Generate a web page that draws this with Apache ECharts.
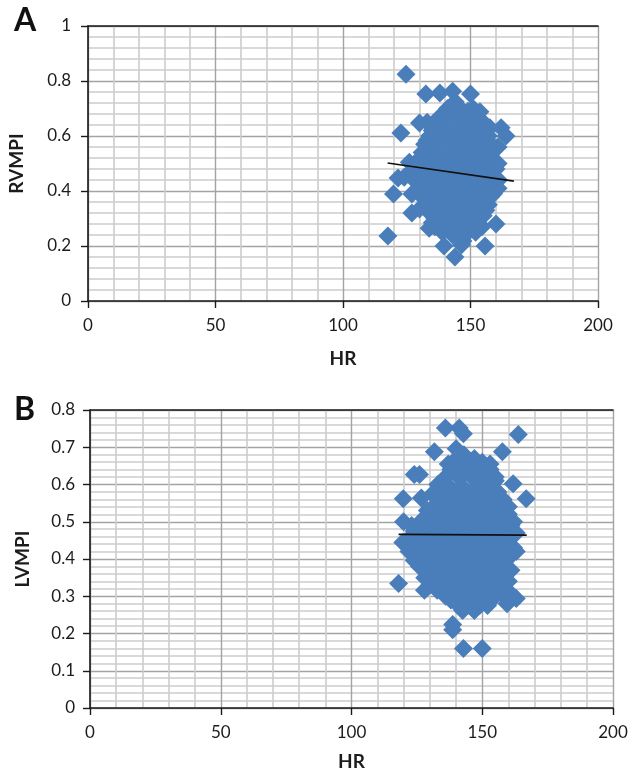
<!DOCTYPE html>
<html><head><meta charset="utf-8">
<style>html,body{margin:0;padding:0;background:#fff}#c{width:630px;height:770px}</style>
<script src="https://cdn.jsdelivr.net/npm/echarts@6/dist/echarts.min.js"></script>
</head><body><div id="c"></div>
<script>
const rvOutliers=[[124.7,.825],[132.5,.753],[138,.756],[143,.763],[150,.753],[153.7,.688],[130,.647],[133,.65],[122.7,.611],[157.6,.63],[162,.63],[163.9,.6],[160.8,.56],[160.8,.5],[160.8,.41],[126,.505],[129,.508],[121.6,.447],[124,.45],[119.8,.389],[127,.389],[127,.32],[130,.335],[117.6,.236],[133.8,.265],[139.6,.2],[143.9,.16],[147,.218],[146.5,.205],[155.7,.2],[154.5,.27],[160,.28]];
const rvCore=[[141,.7],[145,.71],[149,.69],[138,.67],[143,.67],[147,.66],[152,.67],[136,.64],[140,.63],[144,.64],[148,.63],[152,.64],[155,.62],[134,.6],[138,.6],[142,.61],[146,.6],[150,.6],[154,.59],[157,.6],[132,.57],[136,.57],[140,.57],[144,.57],[148,.56],[152,.57],[156,.56],[133,.54],[137,.53],[141,.54],[145,.53],[149,.54],[153,.53],[157,.53],[131,.5],[135,.5],[139,.51],[143,.5],[147,.5],[151,.51],[155,.5],[158,.51],[130,.47],[134,.47],[138,.47],[142,.48],[146,.47],[150,.47],[154,.48],[158,.47],[131,.44],[135,.44],[139,.44],[143,.45],[147,.44],[151,.44],[155,.45],[159,.44],[133,.41],[137,.41],[141,.41],[145,.42],[149,.41],[153,.41],[157,.42],[134,.38],[138,.38],[142,.39],[146,.38],[150,.38],[154,.39],[158,.38],[135,.35],[139,.35],[143,.36],[147,.35],[151,.35],[155,.36],[137,.32],[141,.32],[145,.33],[149,.32],[153,.32],[138,.29],[142,.29],[146,.3],[150,.29],[141,.265],[145,.26],[149,.27],
[133,.585],[135,.62],[131,.54],[129,.49],[128,.46],[129,.43],[131,.4],[132,.37],[133,.33],[136,.3],[157,.58],[159,.55],[160,.48],[159,.39],[157,.35],[155,.31],[152,.28],[137,.66],[155,.65],[140,.68],[146,.69],[136,.27],[139,.25],[143,.24],[149,.25],[152,.25],
[127,.475],[133,.56],[158,.46],[161,.44],[156,.33],[135,.285],[152,.6],[151,.7],[144,.725],[150,.655]];
const lvOutliers=[[135.9,.752],[141.2,.752],[142.8,.736],[163.8,.734],[131.7,.688],[157.7,.688],[140,.696],[124,.627],[126,.627],[161.8,.602],[166.8,.562],[119.8,.562],[126.7,.564],[119.9,.5],[119.6,.444],[124,.396],[122,.42],[118,.334],[127.9,.316],[132.8,.316],[130,.33],[142.5,.262],[147,.262],[152,.275],[159.5,.28],[163,.294],[160.5,.31],[138.7,.224],[138.7,.21],[142.8,.16],[150,.16]];
const lvCore=[[143,.68],[147,.67],[150,.66],[140,.65],[145,.65],[149,.64],[153,.64],[136,.62],[141,.62],[146,.62],[151,.62],[155,.61],[134,.59],[138,.59],[143,.59],[148,.59],[152,.59],[156,.58],[133,.56],[137,.56],[141,.565],[145,.56],[150,.56],[154,.56],[131,.53],[135,.53],[140,.53],[144,.53],[148,.53],[153,.53],[157,.53],[160,.52],[129,.5],[133,.5],[137,.5],[141,.5],[146,.5],[150,.5],[154,.5],[158,.5],[161,.49],[127,.47],[131,.47],[136,.47],[140,.47],[145,.47],[149,.47],[153,.47],[157,.47],[161,.47],[126,.44],[130,.44],[135,.44],[139,.44],[144,.44],[148,.44],[152,.44],[156,.44],[160,.44],[128,.41],[132,.41],[137,.41],[141,.41],[146,.41],[150,.41],[154,.41],[158,.41],[161,.41],[131,.38],[135,.38],[139,.38],[144,.38],[148,.38],[152,.38],[156,.38],[159,.38],[133,.35],[137,.35],[142,.35],[146,.35],[150,.35],[154,.35],[158,.35],[135,.32],[139,.32],[144,.32],[148,.32],[152,.32],[156,.32],[140,.29],[144,.29],[148,.29],[153,.3],
[138,.64],[143,.63],[148,.61],[153,.6],[135,.575],[140,.58],[146,.575],[151,.575],[156,.55],[132,.545],[138,.545],[143,.545],[147,.545],[152,.545],[130,.515],[134,.515],[139,.515],[143,.515],[148,.515],[152,.515],[156,.515],[128,.485],[132,.485],[135,.485],[139,.485],[143,.485],[148,.485],[152,.485],[156,.485],[160,.485],[124,.475],[125,.46],[129,.455],[133,.455],[138,.455],[142,.455],[147,.455],[151,.455],[155,.455],[159,.455],[127,.425],[132,.425],[136,.425],[140,.425],[145,.425],[149,.425],[153,.425],[157,.425],[162,.43],[129,.395],[133,.395],[138,.395],[142,.395],[146,.395],[151,.395],[155,.395],[159,.395],[130,.365],[134,.365],[139,.365],[143,.365],[147,.365],[152,.365],[156,.365],[135,.335],[139,.335],[144,.335],[148,.335],[153,.335],[157,.335],[138,.305],[142,.305],[146,.305],[150,.305],[155,.3],[141,.275],[145,.275],[149,.275],
[133,.6],[131,.575],[129,.53],[127,.505],[123,.49],[122,.455],[123,.42],[126,.38],[128,.35],[133,.325],[136,.3],[158,.56],[160,.54],[162,.5],[163,.47],[163,.42],[161,.37],[160,.34],[157,.31],[155,.62],[137,.655],[153,.655],[144,.67],[141,.675],[138,.29]];
const rvTrend=[[117.5,.502],[167,.436]];
const lvTrend=[[118,.466],[167,.464]];
const hrTicks={min:0,max:200,interval:50};
const rvTicks={min:0,max:1,interval:.2};
const lvTicks={min:0,max:.8,interval:.1};

const labelFont='Lato',tc='#1c1c1c',blue='#4a7ebb';
const grids=[{left:88,top:26,width:510,height:275,outerBoundsMode:'none'},{left:90,top:410,width:523,height:298,outerBoundsMode:'none'}];
const minorLine={show:true,lineStyle:{color:'#cccccc',width:1.6}};
const majorLine={show:true,lineStyle:{color:'#a3a3a3',width:1.4}};
function xAxis(i,gap){return {type:'value',gridIndex:i,...hrTicks,name:'HR',nameLocation:'middle',nameGap:gap,
  nameTextStyle:{fontFamily:labelFont,fontWeight:'bold',fontSize:19,color:tc},
  axisLine:{show:true,lineStyle:{color:'#1a1a1a',width:1.6}},axisTick:{show:true,length:7,lineStyle:{color:'#1a1a1a',width:1.4}},
  axisLabel:{fontFamily:labelFont,fontSize:17,color:tc,margin:16},
  splitLine:majorLine,minorTick:{show:false,splitNumber:5},minorSplitLine:minorLine};}
function yAxis(i,t,name,gap,fmt,marg){return {type:'value',gridIndex:i,...t,name,nameLocation:'middle',nameGap:gap,
  nameTextStyle:{fontFamily:labelFont,fontWeight:'bold',fontSize:19,color:tc},
  axisLine:{show:true,onZero:false,lineStyle:{color:'#1a1a1a',width:1.6}},axisTick:{show:true,length:7,lineStyle:{color:'#1a1a1a',width:1.4}},
  axisLabel:{fontFamily:labelFont,fontSize:17,color:tc,margin:marg,formatter:v=>String(+v.toFixed(1))},
  splitLine:majorLine,minorTick:{show:false,splitNumber:fmt},minorSplitLine:minorLine};}
function topAxis(i){return {type:'value',gridIndex:i,...hrTicks,position:'top',axisLine:{show:true,lineStyle:{color:'#1a1a1a',width:1.6}},axisTick:{show:false},axisLabel:{show:false},splitLine:{show:false}};}
function pts(x,y,d){return {type:'scatter',xAxisIndex:x,yAxisIndex:y,data:d,symbol:'diamond',symbolSize:19,itemStyle:{color:blue,opacity:1},silent:true,z:3};}
function trend(x,y,d){return {type:'line',xAxisIndex:x,yAxisIndex:y,data:d,symbol:'none',lineStyle:{color:'#111',width:1.6},silent:true,z:5};}
const chart=echarts.init(document.getElementById('c'),null,{renderer:'canvas'});
chart.setOption({animation:false,backgroundColor:'#fff',grid:grids,
  xAxis:[xAxis(0,48),xAxis(1,44),topAxis(0),topAxis(1)],
  yAxis:[yAxis(0,rvTicks,'RVMPI',62,5,17),yAxis(1,lvTicks,'LVMPI',58,5,15)],
  series:[pts(0,0,rvOutliers.concat(rvCore)),trend(0,0,rvTrend),pts(1,1,lvOutliers.concat(lvCore)),trend(1,1,lvTrend)],
  graphic:[{type:'text',left:14,top:5,style:{text:'A',fontFamily:labelFont,fontWeight:'bold',fontSize:32,fill:'#111'}},
           {type:'text',left:14,top:394,style:{text:'B',fontFamily:labelFont,fontWeight:'bold',fontSize:32,fill:'#111'}}]
});
</script></body></html>
